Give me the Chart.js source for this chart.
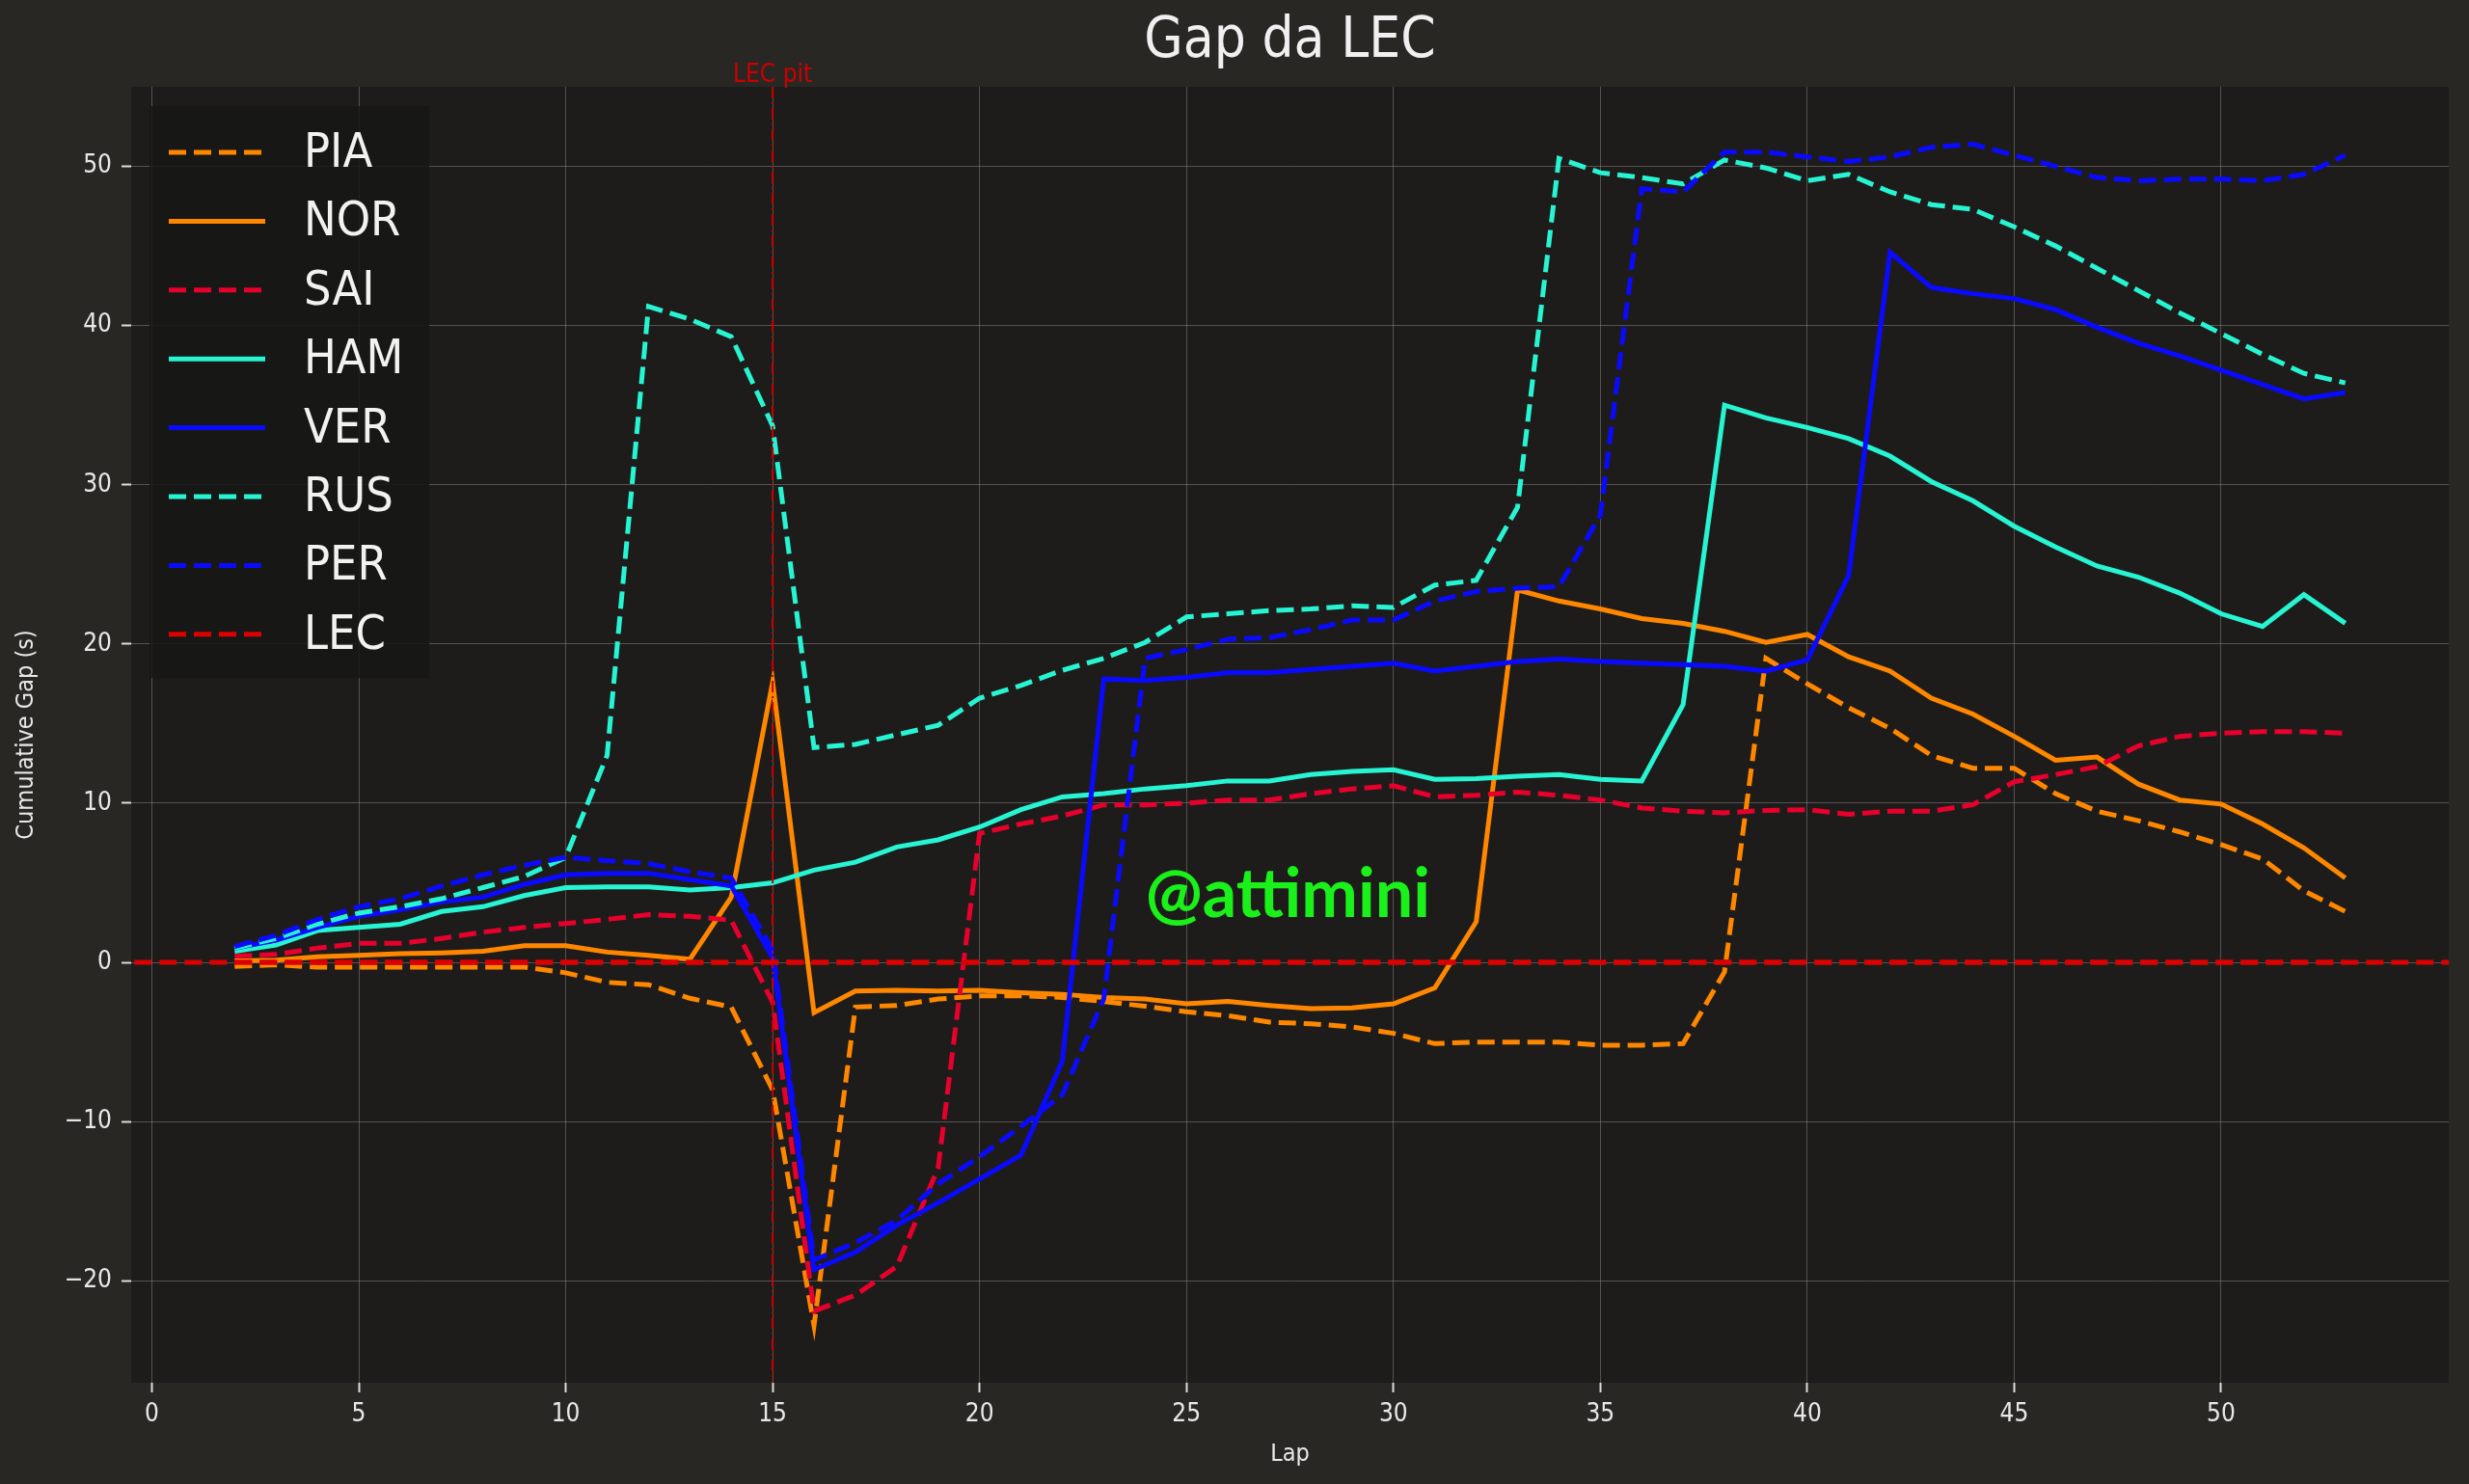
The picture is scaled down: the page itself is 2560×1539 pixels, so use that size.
<!DOCTYPE html>
<html>
<head>
<meta charset="utf-8">
<title>Gap da LEC</title>
<script src="https://cdn.jsdelivr.net/npm/chart.js@4.4.1/dist/chart.umd.min.js"></script>
<style>
  html, body { margin: 0; padding: 0; background: #292724; }
  canvas { display: block; }
</style>
</head>
<body>
<canvas id="gapChart" width="2560" height="1539"></canvas>
<script>
// laps 2..53
const laps = [2,3,4,5,6,7,8,9,10,11,12,13,14,15,16,17,18,19,20,21,22,23,24,25,26,27,
              28,29,30,31,32,33,34,35,36,37,38,39,40,41,42,43,44,45,46,47,48,49,50,51,52,53];

const PIA = [-0.25,-0.15,-0.3,-0.3,-0.3,-0.3,-0.3,-0.3,-0.65,-1.25,-1.4,-2.25,-2.8,-8.0,-22.8,-2.8,-2.7,-2.3,-2.1,-2.1,-2.2,-2.45,-2.75,-3.1,-3.35,-3.75,
             -3.85,-4.05,-4.45,-5.1,-5.0,-5.0,-5.0,-5.2,-5.2,-5.1,-0.6,19.1,17.5,16.0,14.7,13.0,12.2,12.2,10.6,9.5,8.9,8.2,7.4,6.5,4.5,3.2];
const NOR = [0.1,0.15,0.35,0.45,0.55,0.6,0.7,1.05,1.05,0.65,0.45,0.2,4.1,17.6,-3.15,-1.8,-1.75,-1.8,-1.75,-1.9,-2.0,-2.2,-2.3,-2.6,-2.45,-2.7,
             -2.9,-2.85,-2.6,-1.6,2.55,23.4,22.7,22.2,21.6,21.3,20.8,20.1,20.6,19.2,18.3,16.6,15.6,14.2,12.7,12.9,11.2,10.2,9.95,8.7,7.2,5.3];
const SAI = [0.4,0.5,0.9,1.2,1.2,1.5,1.9,2.2,2.45,2.7,3.0,2.9,2.65,-2.5,-21.9,-20.9,-19.1,-12.9,8.1,8.7,9.2,9.9,9.9,10.0,10.2,10.2,
             10.6,10.9,11.1,10.4,10.5,10.7,10.5,10.2,9.7,9.5,9.4,9.55,9.6,9.3,9.5,9.5,9.9,11.35,11.8,12.3,13.6,14.2,14.4,14.5,14.5,14.4];
const HAM = [0.7,1.1,2.0,2.2,2.4,3.2,3.5,4.2,4.7,4.75,4.75,4.55,4.7,5.0,5.8,6.3,7.25,7.7,8.5,9.6,10.4,10.6,10.9,11.1,11.4,11.4,
             11.8,12.0,12.1,11.5,11.55,11.7,11.8,11.5,11.4,16.2,35.0,34.2,33.6,32.9,31.8,30.2,29.0,27.4,26.1,24.9,24.2,23.2,21.9,21.1,23.1,21.3];
const VER = [0.9,1.4,2.2,2.9,3.3,3.8,4.1,4.9,5.5,5.6,5.6,5.2,4.8,0.3,-19.3,-18.2,-16.5,-15.1,-13.6,-12.1,-6.2,17.8,17.7,17.9,18.2,18.2,
             18.4,18.6,18.8,18.3,18.6,18.9,19.05,18.9,18.8,18.7,18.6,18.3,19.0,24.3,44.6,42.4,42.0,41.7,41.0,39.9,38.9,38.1,37.2,36.3,35.4,35.8];
const RUS = [0.9,1.5,2.4,3.1,3.5,4.0,4.7,5.4,6.6,13.0,41.2,40.4,39.3,33.7,13.5,13.7,14.3,14.9,16.6,17.4,18.35,19.1,20.1,21.7,21.9,22.1,
             22.2,22.4,22.3,23.7,24.0,28.6,50.5,49.6,49.3,48.9,50.4,49.9,49.1,49.5,48.4,47.6,47.3,46.2,45.0,43.6,42.2,40.8,39.5,38.2,37.0,36.4];
const PER = [1.0,1.7,2.7,3.5,4.0,4.8,5.5,6.1,6.6,6.4,6.2,5.7,5.3,0.8,-18.7,-17.6,-16.2,-13.9,-12.2,-10.3,-8.3,-2.3,19.1,19.65,20.3,20.4,
             20.9,21.5,21.5,22.7,23.3,23.5,23.6,28.1,48.6,48.4,50.9,50.9,50.6,50.3,50.6,51.2,51.4,50.7,50.0,49.3,49.1,49.2,49.2,49.1,49.5,50.7];
const LEC = [0,0,0,0,0,0,0,0,0,0,0,0,0,0,0,0,0,0,0,0,0,0,0,0,0,0,
             0,0,0,0,0,0,0,0,0,0,0,0,0,0,0,0,0,0,0,0,0,0,0,0,0,0];

const driverNames  = ['PIA', 'NOR', 'SAI', 'HAM', 'VER', 'RUS', 'PER', 'LEC'];
const driverGaps   = [PIA, NOR, SAI, HAM, VER, RUS, PER, LEC];
const driverColors = ['#ff8700', '#ff8700', '#e8002d', '#27f4d2', '#0a0aff', '#27f4d2', '#0a0aff', '#dc0000'];
const driverDashed = [true, false, true, false, false, true, true, true];

const pitLap = 15;
const xTicks = [0, 5, 10, 15, 20, 25, 30, 35, 40, 45, 50];
const yTicks = [-20, -10, 0, 10, 20, 30, 40, 50];
const watermark = { text: '@attimini', lap: 27.45, gap: 4.2 };

const FONT = "'DejaVu Sans Condensed', 'DejaVu Sans', sans-serif";
const DASH = [18, 8];
const LINE_W = 5;

const datasets = driverNames.map((name, i) => ({
    label: name,
    data: laps.map((lap, j) => ({ x: lap, y: driverGaps[i][j] })),
    borderColor: driverColors[i],
    backgroundColor: driverColors[i],
    borderWidth: LINE_W,
    borderDash: driverDashed[i] ? DASH : [],
    pointRadius: 0,
    tension: 0,
    order: driverNames.length - i   // later drivers on top, like matplotlib
}));

const bgPlugin = {
    id: 'bgPlugin',
    beforeDraw(chart) {
        const { ctx, chartArea: a } = chart;
        ctx.save();
        ctx.fillStyle = '#292724';
        ctx.fillRect(0, 0, chart.width, chart.height);
        ctx.fillStyle = '#1e1c1a';
        ctx.fillRect(a.left, a.top, a.right - a.left, a.bottom - a.top);
        // title
        ctx.fillStyle = '#f0f0f0';
        ctx.font = '58px ' + FONT;
        ctx.textAlign = 'center';
        ctx.textBaseline = 'middle';
        ctx.fillText('Gap da LEC', (a.left + a.right) / 2, 44);
        ctx.restore();
    }
};

const overlayPlugin = {
    id: 'overlayPlugin',
    afterDatasetsDraw(chart) {
        const { ctx, chartArea: a, scales } = chart;
        ctx.save();
        // zero line across the whole plot, dash phase matched to the LEC series
        const y0 = scales.y.getPixelForValue(0);
        const xStart = scales.x.getPixelForValue(laps[0]);
        ctx.strokeStyle = '#dc0000';
        ctx.lineWidth = LINE_W;
        ctx.setLineDash(DASH);
        ctx.lineDashOffset = a.left - xStart;
        ctx.beginPath();
        ctx.moveTo(a.left, y0);
        ctx.lineTo(a.right, y0);
        ctx.stroke();
        ctx.lineDashOffset = 0;

        // pit marker
        const xp = scales.x.getPixelForValue(pitLap);
        ctx.strokeStyle = '#cc0000';
        ctx.lineWidth = 2;
        ctx.setLineDash([12, 4, 2, 4]);
        ctx.beginPath();
        ctx.moveTo(xp, a.top);
        ctx.lineTo(xp, a.bottom);
        ctx.stroke();
        ctx.setLineDash([]);
        ctx.fillStyle = '#cc0000';
        ctx.font = '26px ' + FONT;
        ctx.textAlign = 'center';
        ctx.textBaseline = 'bottom';
        ctx.fillText('LEC pit', xp, a.top + 1);

        // watermark
        ctx.fillStyle = '#1af01a';
        ctx.font = 'bold 70px Lato, sans-serif';
        ctx.textAlign = 'center';
        ctx.textBaseline = 'middle';
        ctx.fillText(watermark.text, scales.x.getPixelForValue(watermark.lap), scales.y.getPixelForValue(watermark.gap));

        // legend
        const lx = a.left + 19, ly = a.top + 20, lw = 290, rowH = 71.4;
        ctx.fillStyle = 'rgba(22,22,22,0.85)';
        ctx.fillRect(lx, ly, lw, rowH * driverNames.length + 22);
        driverNames.forEach((name, i) => {
            const cy = ly + 48 + rowH * i;
            ctx.strokeStyle = driverColors[i];
            ctx.lineWidth = LINE_W;
            ctx.setLineDash(driverDashed[i] ? DASH : []);
            ctx.beginPath();
            ctx.moveTo(lx + 20, cy);
            ctx.lineTo(lx + 120, cy);
            ctx.stroke();
            ctx.setLineDash([]);
            ctx.fillStyle = '#f2f2f2';
            ctx.font = '50px ' + FONT;
            ctx.textAlign = 'left';
            ctx.textBaseline = 'middle';
            ctx.fillText(name, lx + 160, cy + 2);
        });
        ctx.restore();
    }
};

new Chart(document.getElementById('gapChart'), {
    type: 'line',
    data: { datasets },
    options: {
        responsive: false,
        devicePixelRatio: 1,
        animation: false,
        layout: { padding: { left: 0, top: 90, right: 21, bottom: 0 } },
        plugins: {
            legend: { display: false },
            tooltip: { enabled: false },
            title: { display: false }
        },
        scales: {
            x: {
                type: 'linear',
                min: -0.5,
                max: 55.5,
                afterBuildTicks: scale => { scale.ticks = xTicks.map(v => ({ value: v })); },
                afterFit: scale => { scale.height = 105; },
                border: { display: false },
                grid: {
                    color: 'rgba(150,150,150,0.45)',
                    lineWidth: 1,
                    tickLength: 10,
                    tickColor: '#dddddd',
                    tickWidth: 2
                },
                ticks: { color: '#e8e8e8', font: { family: FONT, size: 26 }, padding: 8 },
                title: { display: true, text: 'Lap', color: '#e8e8e8', font: { family: FONT, size: 25 }, padding: { top: 4, bottom: 16 } }
            },
            y: {
                min: -26.4,
                max: 55,
                afterBuildTicks: scale => { scale.ticks = yTicks.map(v => ({ value: v })); },
                afterFit: scale => { scale.width = 136; },
                border: { display: false },
                grid: {
                    color: 'rgba(150,150,150,0.45)',
                    lineWidth: 1,
                    tickLength: 10,
                    tickColor: '#dddddd',
                    tickWidth: 2
                },
                ticks: {
                    color: '#e8e8e8',
                    font: { family: FONT, size: 26 },
                    padding: 10,
                    callback: v => String(v).replace('-', '\u2212')
                },
                title: { display: true, text: 'Cumulative Gap (s)', color: '#e8e8e8', font: { family: FONT, size: 25 }, padding: { top: 12, bottom: 4 } }
            }
        }
    },
    plugins: [bgPlugin, overlayPlugin]
});
</script>
</body>
</html>
